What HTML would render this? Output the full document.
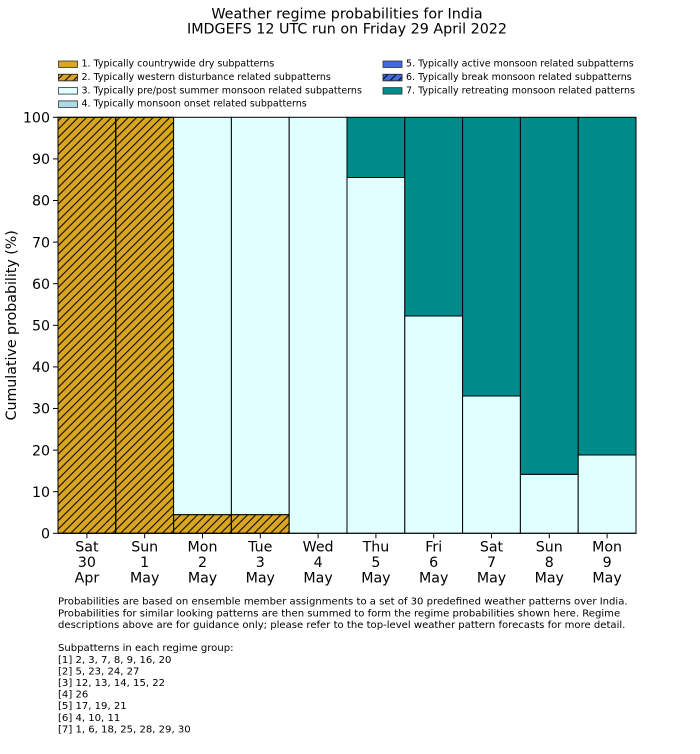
<!DOCTYPE html>
<html><head><meta charset="utf-8"><style>
html,body{margin:0;padding:0;background:#fff;}
svg{display:block;font-family:"DejaVu Sans","Liberation Sans",sans-serif;}
</style></head><body>
<svg width="700" height="754" viewBox="0 0 700 754" xmlns="http://www.w3.org/2000/svg">
<defs>
<pattern id="h" patternUnits="userSpaceOnUse" width="8.333" height="8.333" patternTransform="translate(4,0)">
<line x1="-1" y1="1" x2="1" y2="-1" stroke="#000" stroke-width="1"/>
<line x1="0" y1="8.333" x2="8.333" y2="0" stroke="#000" stroke-width="1"/>
<line x1="7.333" y1="9.333" x2="9.333" y2="7.333" stroke="#000" stroke-width="1"/>
</pattern>
</defs>
<rect width="700" height="754" fill="#fff"/>
<!-- Title -->
<text x="347" y="18.3" font-size="14.3" text-anchor="middle" fill="#000">Weather regime probabilities for India</text>
<text x="347" y="33.7" font-size="14.3" text-anchor="middle" fill="#000">IMDGEFS 12 UTC run on Friday 29 April 2022</text>
<!-- Legend -->
<g font-size="9.5" fill="#000">
<rect x="58.5" y="61" width="19" height="6.5" fill="#DAA520" stroke="#333" stroke-width="0.8"/>
<text x="81.5" y="66.7">1. Typically countrywide dry subpatterns</text>
<rect x="58.5" y="74.3" width="19" height="6.5" fill="#DAA520" stroke="#333" stroke-width="0.8"/>
<rect x="58.5" y="74.3" width="19" height="6.5" fill="url(#h)" stroke="#333" stroke-width="0.8"/>
<text x="81.5" y="80">2. Typically western disturbance related subpatterns</text>
<rect x="58.5" y="87.6" width="19" height="6.5" fill="#E0FFFF" stroke="#333" stroke-width="0.8"/>
<text x="81.5" y="93.3">3. Typically pre/post summer monsoon related subpatterns</text>
<rect x="58.5" y="100.9" width="19" height="6.5" fill="#ADD8E6" stroke="#333" stroke-width="0.8"/>
<text x="81.5" y="106.6">4. Typically monsoon onset related subpatterns</text>
<rect x="383" y="61" width="19" height="6.5" fill="#4169E1" stroke="#333" stroke-width="0.8"/>
<text x="406" y="66.7">5. Typically active monsoon related subpatterns</text>
<rect x="383" y="74.3" width="19" height="6.5" fill="#4169E1" stroke="#333" stroke-width="0.8"/>
<rect x="383" y="74.3" width="19" height="6.5" fill="url(#h)" stroke="#333" stroke-width="0.8"/>
<text x="406" y="80">6. Typically break monsoon related subpatterns</text>
<rect x="383" y="87.6" width="19" height="6.5" fill="#008B8B" stroke="#333" stroke-width="0.8"/>
<text x="406" y="93.3">7. Typically retreating monsoon related patterns</text>
</g>
<!-- Bars -->
<g stroke="#000" stroke-width="1">
<rect x="58" y="117.3" width="57.8" height="416" fill="#DAA520"/>
<rect x="58" y="117.3" width="57.8" height="416" fill="url(#h)"/>
<rect x="115.8" y="117.3" width="57.8" height="416" fill="#DAA520"/>
<rect x="115.8" y="117.3" width="57.8" height="416" fill="url(#h)"/>
<rect x="173.6" y="514.6" width="57.8" height="18.7" fill="#DAA520"/>
<rect x="173.6" y="514.6" width="57.8" height="18.7" fill="url(#h)"/>
<rect x="173.6" y="117.3" width="57.8" height="397.3" fill="#E0FFFF"/>
<rect x="231.4" y="514.6" width="57.8" height="18.7" fill="#DAA520"/>
<rect x="231.4" y="514.6" width="57.8" height="18.7" fill="url(#h)"/>
<rect x="231.4" y="117.3" width="57.8" height="397.3" fill="#E0FFFF"/>
<rect x="289.2" y="117.3" width="57.8" height="416" fill="#E0FFFF"/>
<rect x="347" y="177.5" width="57.8" height="355.8" fill="#E0FFFF"/>
<rect x="347" y="117.3" width="57.8" height="60.2" fill="#008B8B"/>
<rect x="404.8" y="316" width="57.8" height="217.3" fill="#E0FFFF"/>
<rect x="404.8" y="117.3" width="57.8" height="198.7" fill="#008B8B"/>
<rect x="462.6" y="396" width="57.8" height="137.3" fill="#E0FFFF"/>
<rect x="462.6" y="117.3" width="57.8" height="278.7" fill="#008B8B"/>
<rect x="520.4" y="474.3" width="57.8" height="59" fill="#E0FFFF"/>
<rect x="520.4" y="117.3" width="57.8" height="357" fill="#008B8B"/>
<rect x="578.2" y="455" width="57.8" height="78.3" fill="#E0FFFF"/>
<rect x="578.2" y="117.3" width="57.8" height="337.7" fill="#008B8B"/>
</g>
<!-- Spines -->
<line x1="58" y1="117" x2="58" y2="533.8" stroke="#000" stroke-width="1"/>
<line x1="57.5" y1="533.3" x2="636.5" y2="533.3" stroke="#000" stroke-width="1"/>
<line x1="636" y1="117" x2="636" y2="533.8" stroke="#000" stroke-width="1"/>
<!-- Y ticks -->
<g stroke="#000" stroke-width="1">
<line x1="53" y1="533.3" x2="58" y2="533.3"/>
<line x1="53" y1="491.7" x2="58" y2="491.7"/>
<line x1="53" y1="450.1" x2="58" y2="450.1"/>
<line x1="53" y1="408.5" x2="58" y2="408.5"/>
<line x1="53" y1="366.9" x2="58" y2="366.9"/>
<line x1="53" y1="325.3" x2="58" y2="325.3"/>
<line x1="53" y1="283.7" x2="58" y2="283.7"/>
<line x1="53" y1="242.1" x2="58" y2="242.1"/>
<line x1="53" y1="200.5" x2="58" y2="200.5"/>
<line x1="53" y1="158.9" x2="58" y2="158.9"/>
<line x1="53" y1="117.3" x2="58" y2="117.3"/>
</g>
<g font-size="14.2" text-anchor="end" fill="#000">
<text x="50" y="538.5">0</text>
<text x="50" y="496.9">10</text>
<text x="50" y="455.3">20</text>
<text x="50" y="413.7">30</text>
<text x="50" y="372.1">40</text>
<text x="50" y="330.5">50</text>
<text x="50" y="288.9">60</text>
<text x="50" y="247.3">70</text>
<text x="50" y="205.7">80</text>
<text x="50" y="164.1">90</text>
<text x="50" y="122.5">100</text>
</g>
<text transform="translate(16,325.3) rotate(-90)" font-size="14.2" text-anchor="middle" fill="#000">Cumulative probability (%)</text>
<!-- X ticks -->
<g stroke="#000" stroke-width="1">
<line x1="86.9" y1="533.3" x2="86.9" y2="538.3"/>
<line x1="144.7" y1="533.3" x2="144.7" y2="538.3"/>
<line x1="202.5" y1="533.3" x2="202.5" y2="538.3"/>
<line x1="260.3" y1="533.3" x2="260.3" y2="538.3"/>
<line x1="318.1" y1="533.3" x2="318.1" y2="538.3"/>
<line x1="375.9" y1="533.3" x2="375.9" y2="538.3"/>
<line x1="433.7" y1="533.3" x2="433.7" y2="538.3"/>
<line x1="491.5" y1="533.3" x2="491.5" y2="538.3"/>
<line x1="549.3" y1="533.3" x2="549.3" y2="538.3"/>
<line x1="607.1" y1="533.3" x2="607.1" y2="538.3"/>
</g>
<g font-size="14.2" text-anchor="middle" fill="#000">
<text x="86.9" y="551.5">Sat</text><text x="86.9" y="567">30</text><text x="86.9" y="582.5">Apr</text>
<text x="144.7" y="551.5">Sun</text><text x="144.7" y="567">1</text><text x="144.7" y="582.5">May</text>
<text x="202.5" y="551.5">Mon</text><text x="202.5" y="567">2</text><text x="202.5" y="582.5">May</text>
<text x="260.3" y="551.5">Tue</text><text x="260.3" y="567">3</text><text x="260.3" y="582.5">May</text>
<text x="318.1" y="551.5">Wed</text><text x="318.1" y="567">4</text><text x="318.1" y="582.5">May</text>
<text x="375.9" y="551.5">Thu</text><text x="375.9" y="567">5</text><text x="375.9" y="582.5">May</text>
<text x="433.7" y="551.5">Fri</text><text x="433.7" y="567">6</text><text x="433.7" y="582.5">May</text>
<text x="491.5" y="551.5">Sat</text><text x="491.5" y="567">7</text><text x="491.5" y="582.5">May</text>
<text x="549.3" y="551.5">Sun</text><text x="549.3" y="567">8</text><text x="549.3" y="582.5">May</text>
<text x="607.1" y="551.5">Mon</text><text x="607.1" y="567">9</text><text x="607.1" y="582.5">May</text>
</g>
<!-- Footer -->
<g font-size="10.07" fill="#000">
<text x="58" y="604.7">Probabilities are based on ensemble member assignments to a set of 30 predefined weather patterns over India.</text>
<text x="58" y="616.3">Probabilities for similar looking patterns are then summed to form the regime probabilities shown here. Regime</text>
<text x="58" y="627.9">descriptions above are for guidance only; please refer to the top-level weather pattern forecasts for more detail.</text>
<text x="58" y="651.2">Subpatterns in each regime group:</text>
<text x="58" y="662.8">[1] 2, 3, 7, 8, 9, 16, 20</text>
<text x="58" y="674.4">[2] 5, 23, 24, 27</text>
<text x="58" y="686">[3] 12, 13, 14, 15, 22</text>
<text x="58" y="697.6">[4] 26</text>
<text x="58" y="709.2">[5] 17, 19, 21</text>
<text x="58" y="720.8">[6] 4, 10, 11</text>
<text x="58" y="732.4">[7] 1, 6, 18, 25, 28, 29, 30</text>
</g>
</svg>
</body></html>
